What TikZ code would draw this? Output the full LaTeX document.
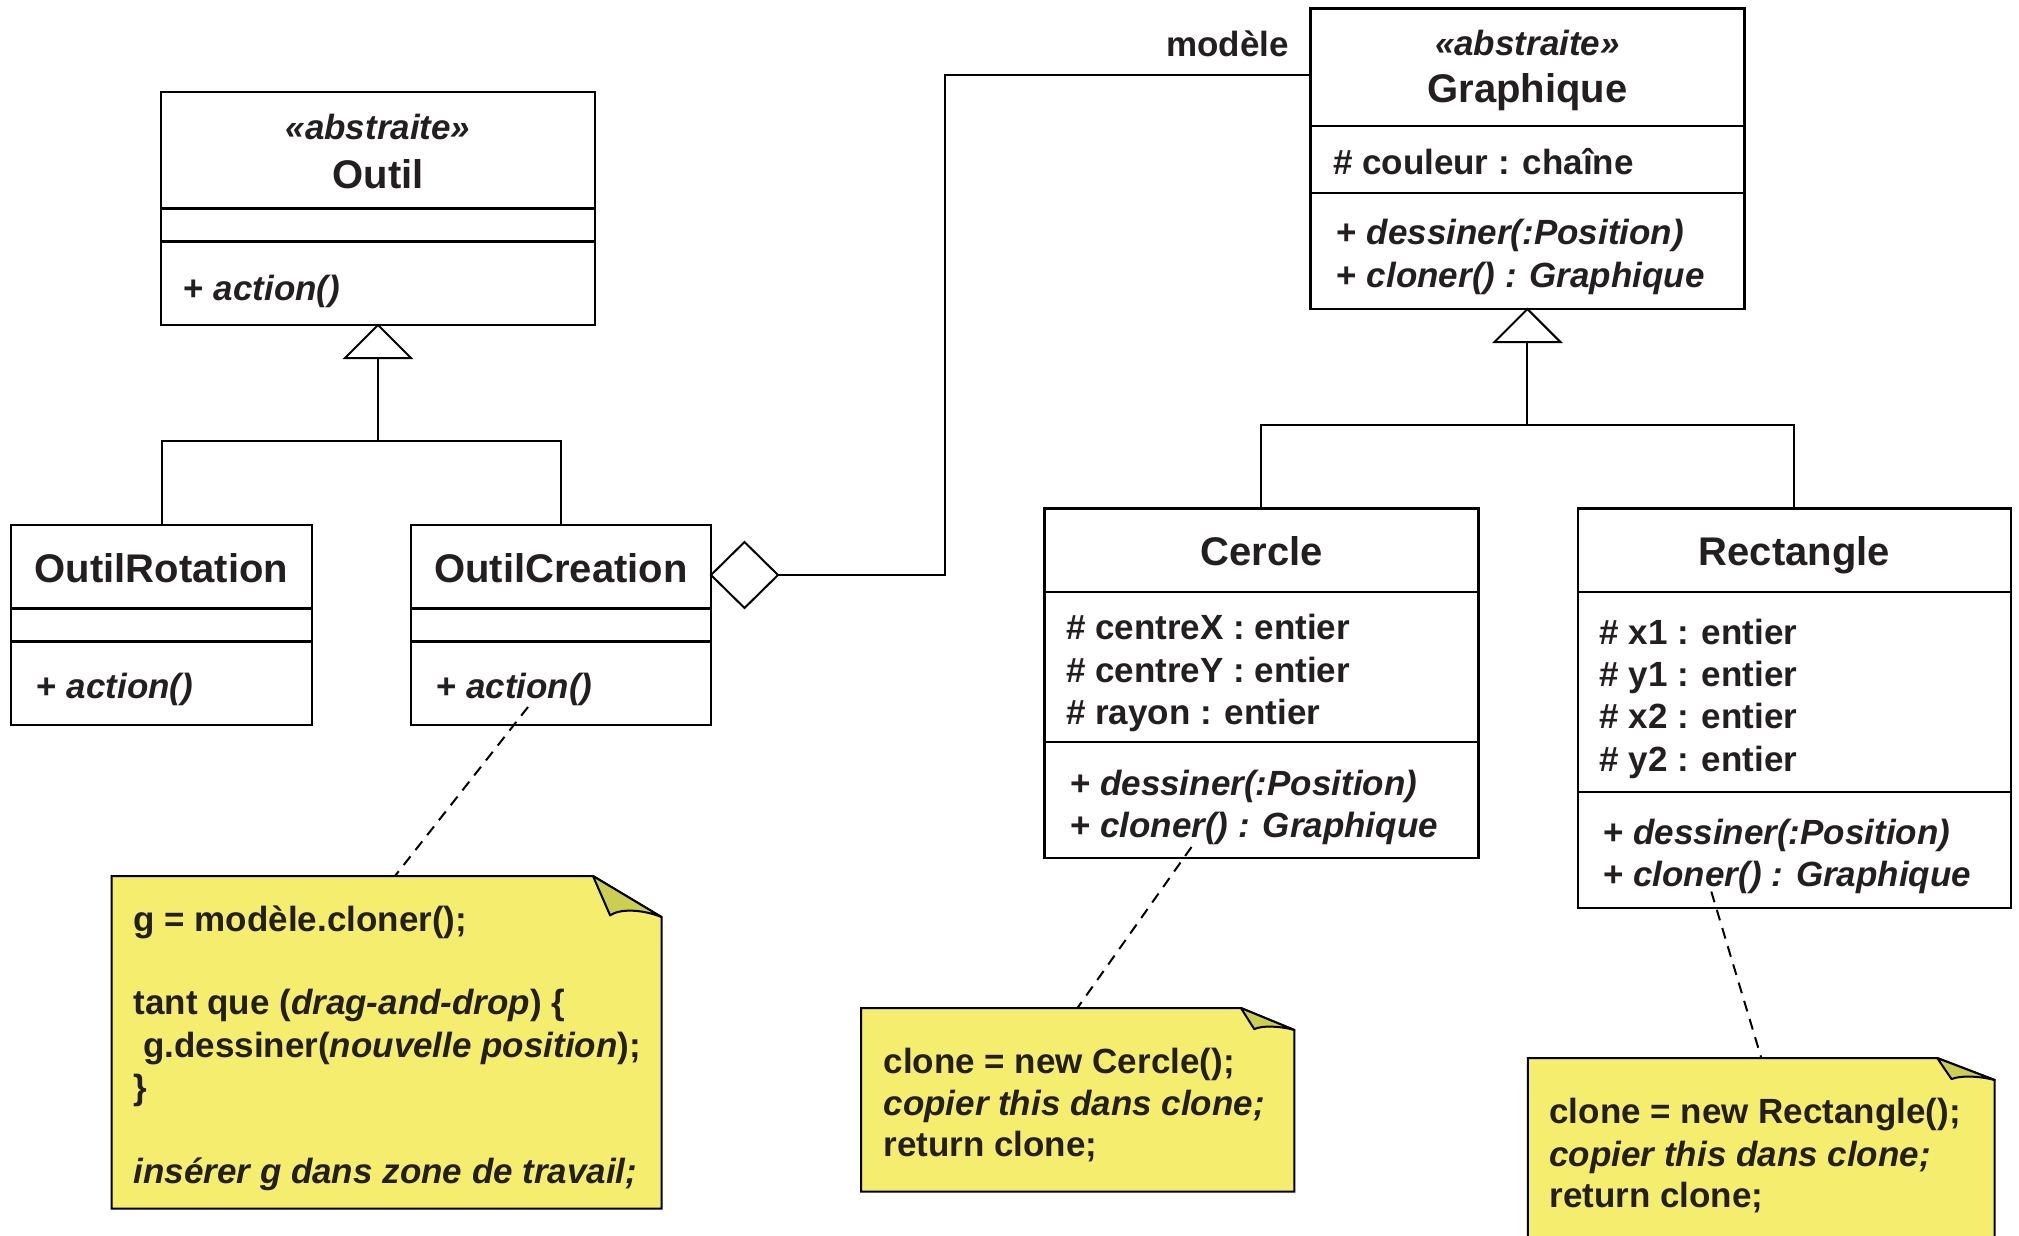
\documentclass[tikz,border=0pt]{standalone}
\usepackage{fontspec}
\setmainfont{Liberation Sans}
\usetikzlibrary{calc,shapes.geometric}

\definecolor{ink}{RGB}{35,31,32}
\definecolor{notefill}{RGB}{245,237,110}
\definecolor{foldfill}{RGB}{204,206,84}

% horizontal separator inside a class box, #2 below its top edge
\newcommand\compline[2]{%
  \draw[sep] ($(#1.north west)+(0,#2)$) -- ($(#1.north east)+(0,#2)$);}
% dog-eared note outline around node #1, fold size #2 x #3
\newcommand\notepaper[3]{%
  \draw[line width=2pt, fill=notefill] (#1.north west)
    -- ($(#1.north east)+(-#2,0)$) -- ($(#1.north east)+(0,#3)$)
    -- (#1.south east) -- (#1.south west) -- cycle;
  \draw[line width=2pt, fill=foldfill, line join=round]
    ($(#1.north east)+(-#2,0)$) -- ($(#1.north east)+(-0.75*#2,0.96*#3)$)
    .. controls ($(#1.north east)+(-0.62*#2,0.8*#3)$) and ($(#1.north east)+(-0.3*#2,0.8*#3)$)
    .. ($(#1.north east)+(0,#3)$) -- cycle;}

\begin{document}
\begin{tikzpicture}[x=1pt,y=-1pt,
  every node/.style={inner sep=0pt, outer sep=0pt},
  classbox/.style={draw=black, line width=2.5pt, anchor=north west},
  notebody/.style={anchor=north west},
  sep/.style={line width=2.5pt},
  wire/.style={line width=2pt},
  notelink/.style={line width=2pt, dash pattern=on 11pt off 8pt},
  lbl/.style={anchor=base west, yshift=-3pt, text=ink, font=\fontsize{35}{42}\selectfont\bfseries},
  stereo/.style={anchor=base, text=ink, font=\fontsize{35}{42}\selectfont\bfseries\itshape},
  title/.style={anchor=base, yshift=-1pt, text=ink, font=\fontsize{40}{48}\selectfont\bfseries}]

\clip (0,0) rectangle (2019,1235);
\fill[white] (0,0) rectangle (2019,1235);

% ---------- Outil hierarchy ----------
\node[classbox, minimum width=434pt, minimum height=233pt] (outil) at (161,92) {};
\compline{outil}{116.5}
\compline{outil}{149.5}
\node[stereo] (outilst) at (378,139) {«abstraite»};
\node[title] (outilname) at (378,187) {Outil};
\node[lbl] (outilop) at (183.6,297) {+ \textit{action()}};

\node[classbox, minimum width=301pt, minimum height=200pt] (rot) at (11,525) {};
\compline{rot}{83.5}
\compline{rot}{116.5}
\node[title] (rotname) at (161.5,581) {OutilRotation};
\node[lbl] (rotop) at (36.7,695) {+ \textit{action()}};

\node[classbox, minimum width=300pt, minimum height=200pt] (creation) at (411,525) {};
\compline{creation}{83.5}
\compline{creation}{116.5}
\node[title] (creationname) at (561,581) {OutilCreation};
\node[lbl] (creationop) at (436,695) {+ \textit{action()}};

\draw[wire, fill=white] (outil.south) -- ++(-33,33) -- ++(66,0) -- cycle;
\coordinate (outilbar) at ($(outil.south)+(0,116)$);
\draw[wire] ($(outil.south)+(0,33)$) -- (outilbar);
\draw[wire] (rot.north) |- (outilbar) -| (creation.north);

% ---------- Graphique hierarchy ----------
\node[classbox, minimum width=434pt, minimum height=300.5pt] (graph) at (1310.4,8.5) {};
\compline{graph}{117.5}
\compline{graph}{184.5}
\node[stereo] (graphst) at (1527.4,55) {«abstraite»};
\node[title] (graphname) at (1527.4,101.7) {Graphique};
\node[lbl] (graphattr) at (1333,171.7) {\# couleur : chaîne};
\node[lbl] (graphop1) at (1336.8,241.7) {+ \textit{dessiner(:Position)}};
\node[lbl] (graphop2) at (1336.8,284.3) {+ \textit{cloner() : Graphique}};

\node[classbox, minimum width=434.3pt, minimum height=349.5pt] (cercle) at (1044.3,508.5) {};
\compline{cercle}{83.5}
\compline{cercle}{233.5}
\node[title] (cerclename) at (1261.5,564) {Cercle};
\node[lbl] (cattr1) at (1066,636.5) {\# centreX : entier};
\node[lbl] (cattr2) at (1066,679.5) {\# centreY : entier};
\node[lbl] (cattr3) at (1066,721.5) {\# rayon : entier};
\node[lbl] (cop1) at (1070,792) {+ \textit{dessiner(:Position)}};
\node[lbl] (cop2) at (1070,834) {+ \textit{cloner() : Graphique}};

\node[classbox, minimum width=433.2pt, minimum height=399.5pt] (rect) at (1577.8,508.5) {};
\compline{rect}{83.5}
\compline{rect}{283.5}
\node[title] (rectname) at (1794.4,564) {Rectangle};
\node[lbl] (rattr1) at (1599.4,641) {\# x1 : entier};
\node[lbl] (rattr2) at (1599.4,683) {\# y1 : entier};
\node[lbl] (rattr3) at (1599.4,725.5) {\# x2 : entier};
\node[lbl] (rattr4) at (1599.4,768) {\# y2 : entier};
\node[lbl] (rop1) at (1603.2,841) {+ \textit{dessiner(:Position)}};
\node[lbl] (rop2) at (1603.2,883) {+ \textit{cloner() : Graphique}};

\draw[wire, fill=white] (graph.south) -- ++(-33,33) -- ++(66,0) -- cycle;
\coordinate (graphbar) at ($(graph.south)+(0,116)$);
\draw[wire] ($(graph.south)+(0,33)$) -- (graphbar);
\draw[wire] (cercle.north) |- (graphbar) -| (rect.north);

% ---------- aggregation OutilCreation -> Graphique ----------
\node[draw=black, fill=white, line width=2pt, diamond, minimum width=67pt, minimum height=66pt] (agg) at (744.5,575) {};
\coordinate (aggbend) at (945,575);
\coordinate (modelend) at ($(graph.north west)+(0,66.5)$);
\draw[wire] (agg.east) -- (aggbend) |- (modelend);
\node[lbl, anchor=base east] (modellbl) at (1289,53) {modèle};

% ---------- notes ----------
\node[notebody, minimum width=550pt, minimum height=332.5pt] (n1) at (111.5,876) {};
\notepaper{n1}{68.5}{41}
\node[lbl] (n1a) at (133.6,928) {g = modèle.cloner();};
\node[lbl] (n1b) at (133.6,1011.6) {tant que (\textit{drag-and-drop}) \{};
\node[lbl] (n1c) at (143.2,1054) {g.dessiner(\textit{nouvelle position});};
\node[lbl] (n1d) at (133.6,1096) {\}};
\node[lbl] (n1e) at (133.6,1180.5) {\textit{insérer g dans zone de travail;}};

\node[notebody, minimum width=433.2pt, minimum height=183.5pt] (n2) at (861.2,1008) {};
\notepaper{n2}{53.5}{22}
\node[lbl] (n2a) at (883.6,1070) {clone = new Cercle();};
\node[lbl] (n2b) at (883.6,1112) {\textit{copier this dans clone;}};
\node[lbl] (n2c) at (883.6,1153.5) {return clone;};

\node[notebody, minimum width=466.9pt, minimum height=220pt] (n3) at (1527.8,1058) {};
\notepaper{n3}{57.5}{22}
\node[lbl] (n3a) at (1549.5,1120) {clone = new Rectangle();};
\node[lbl] (n3b) at (1549.5,1163) {\textit{copier this dans clone;}};
\node[lbl] (n3c) at (1549.5,1204) {return clone;};

% ---------- note links ----------
\coordinate (d1) at ($(creation.south west)+(117,-18)$);
\draw[notelink] (d1) -- ($(n1.north west)+(283.5,0)$);
\coordinate (d2) at ($(cercle.south west)+(147.2,-11)$);
\draw[notelink] (d2) -- ($(n2.north west)+(216.2,0)$);
\coordinate (d3) at ($(rect.south west)+(133.5,-16.4)$);
\draw[notelink] (d3) -- ($(n3.north west)+(233.5,0)$);

\end{tikzpicture}
\end{document}
